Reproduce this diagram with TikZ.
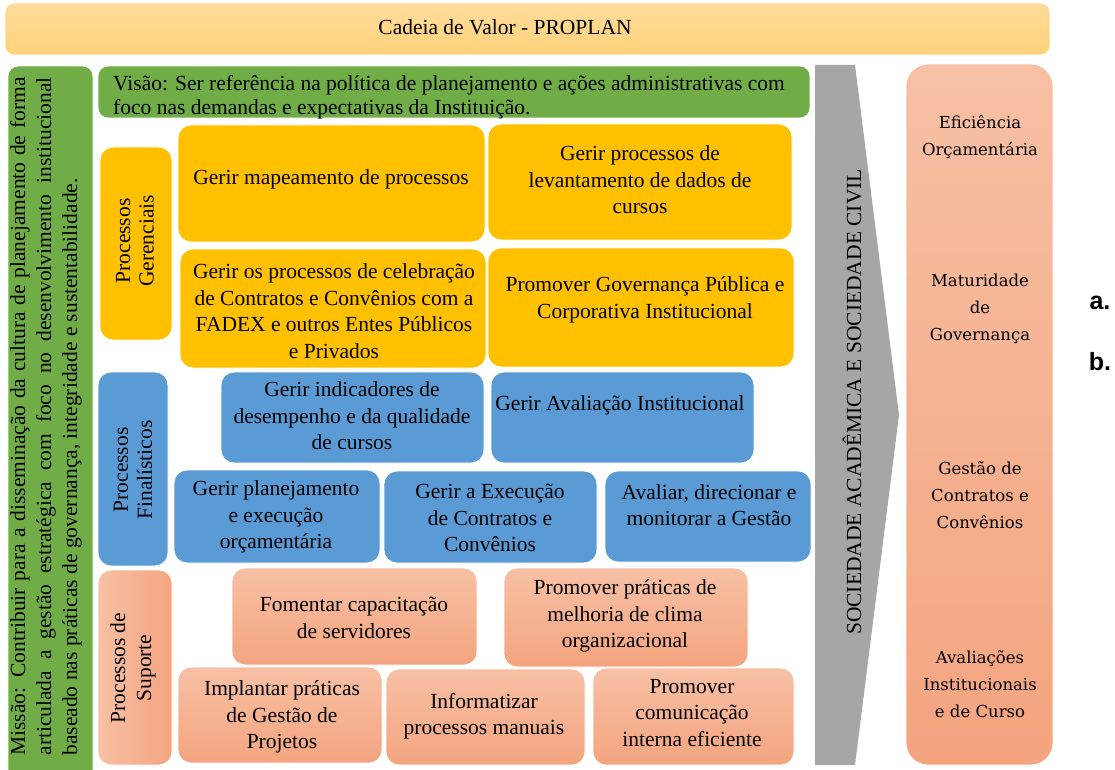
\documentclass[tikz,border=0pt]{standalone}
\usepackage{fontspec}
\setmainfont{Liberation Serif}
\newfontfamily\rfont{DejaVu Serif}
\newfontfamily\lfont{Liberation Sans}
\definecolor{cYel}{HTML}{FFC000}
\definecolor{cBlu}{HTML}{5B9BD5}
\definecolor{cGrn}{HTML}{70AD47}
\definecolor{cGray}{HTML}{A6A6A6}
\definecolor{cSalT}{HTML}{F7C0A4}
\definecolor{cSalB}{HTML}{F4A47F}
\definecolor{cTopT}{HTML}{FFDC9C}
\definecolor{cTopB}{HTML}{FFD27A}
\newcommand\bx[6]{\node[#1, anchor=north west, minimum width={#5-#3}, minimum height={#6-#4}] (#2) at (#3,#4) {};}
\begin{document}
\begin{tikzpicture}[x=1pt,y=-1pt,
  box/.style={rounded corners=13pt, draw=white, line width=0.8pt, inner sep=0pt, outer sep=0pt},
  yel/.style={box, fill=cYel},
  blu/.style={box, fill=cBlu},
  grn/.style={box, fill=cGrn, rounded corners=10pt},
  sal/.style={box, top color=cSalT, bottom color=cSalB},
  salh/.style={box, left color=cSalT, right color=cSalB},
  txt/.style={align=center, inner sep=0pt, font=\fontsize{21.5}{26.5}\selectfont},
  rtxt/.style={align=center, inner sep=0pt, font=\rfont\fontsize{16.5}{27}\selectfont},
  lbl/.style={inner sep=0pt, font=\lfont\bfseries\fontsize{25}{28}\selectfont}
]
\useasboundingbox (0,0) rectangle (1115,770);
% top bar
\node[box, rounded corners=9pt, top color=cTopT, bottom color=cTopB, anchor=north west, minimum width=1045, minimum height=52] (top) at (5,3) {};
\node[txt] (topt) at (505,27) {Cadeia de Valor - PROPLAN};
% missao
\bx{grn}{mis}{8}{66}{93}{785}
\node[rotate=90, text width=678pt, align=justify, inner sep=0pt, font=\fontsize{21.5}{26}\selectfont] (mist) at (46,416.5)
 {Missão: Contribuir para a disseminação da cultura de planejamento de forma\linebreak articulada a gestão estratégica com foco no desenvolvimento institucional\linebreak baseado nas práticas de governança, integridade e sustentabilidade.};
% visao
\bx{grn}{vis}{98}{66}{810}{118}
\node[anchor=west, align=left, inner sep=0pt, font=\fontsize{21.5}{24}\selectfont] (vist) at (113,97)
 {Visão: Ser referência na política de planejamento e ações administrativas com\\foco nas demandas e expectativas da Instituição.};
% labels
\bx{yel}{pg}{100}{147}{172}{340}
\node[txt, rotate=90, font=\fontsize{21.5}{23.5}\selectfont] (pgt) at (135,241) {Processos\\Gerenciais};
\bx{blu}{pf}{98}{372}{168}{566}
\node[txt, rotate=90, font=\fontsize{21.5}{24}\selectfont] (pft) at (133,470) {Processos\\Finalísticos};
\bx{salh}{ps}{98}{570}{172}{765}
\node[txt, rotate=90, font=\fontsize{21.5}{26}\selectfont] (pst) at (133,668) {Processos de\\Suporte};
% yellow boxes
\bx{yel}{A}{178}{125}{485}{242}
\node[txt] (At) at (331,179) {Gerir mapeamento de processos};
\bx{yel}{B}{488}{124}{792}{240}
\node[txt] (Bt) at (640,180) {Gerir processos de\\levantamento de dados de\\cursos};
\bx{yel}{C}{180}{249}{486}{368}
\node[txt] (Ct) at (334,311) {Gerir os processos de celebração\\de Contratos e Convênios com a\\FADEX e outros Entes Públicos\\e Privados};
\bx{yel}{D}{488}{248}{794}{367}
\node[txt] (Dt) at (645,300) {Promover Governança Pública e\\Corporativa Institucional};
% blue boxes
\bx{blu}{E}{221}{372}{484}{463}
\node[txt] (Et) at (352,416) {Gerir indicadores de\\desempenho e da qualidade\\de cursos};
\bx{blu}{F}{491}{372}{754}{463}
\node[txt] (Ft) at (620,405) {Gerir Avaliação Institucional};
\bx{blu}{G}{174}{470}{380}{563}
\node[txt] (Gt) at (276,517) {Gerir planejamento\\e execução\\orçamentária};
\bx{blu}{H}{384}{471}{597}{563}
\node[txt] (Ht) at (490,518) {Gerir a Execução\\de Contratos e\\Convênios};
\bx{blu}{I}{605}{471}{811}{562}
\node[txt] (It) at (709,505) {Avaliar, direcionar e\\monitorar a Gestão};
% salmon boxes
\bx{sal}{J}{232}{568}{477}{665}
\node[txt] (Jt) at (354,618) {Fomentar capacitação\\de servidores};
\bx{sal}{K}{504}{568}{748}{667}
\node[txt] (Kt) at (625,616) {Promover práticas de\\melhoria de clima\\organizacional};
\bx{sal}{L}{178}{667}{382}{763}
\node[txt] (Lt) at (282,717) {Implantar práticas\\de Gestão de\\Projetos};
\bx{sal}{M}{386}{669}{585}{765}
\node[txt] (Mt) at (484,716) {Informatizar\\processos manuais};
\bx{sal}{N}{593}{668}{794}{765}
\node[txt] (Nt) at (692,713) {Promover\\comunicação\\interna eficiente};
% gray arrow
\path[fill=cGray] (815,65) -- (855,65) -- (899,415) -- (855,765) -- (815,765) -- cycle;
\node[txt, rotate=90] (soc) at (852,402) {SOCIEDADE ACADÊMICA E SOCIEDADE CIVIL};
% right column
\bx{sal, rounded corners=22pt}{res}{906}{64}{1053}{765}
\node[rtxt] (r1) at (980,137) {Eficiência\\Orçamentária};
\node[rtxt] (r2) at (980,309) {Maturidade\\de\\Governança};
\node[rtxt] (r3) at (980,495) {Gestão de\\Contratos e\\Convênios};
\node[rtxt] (r4) at (980,684) {Avaliações\\Institucionais\\e de Curso};
% a. b.
\node[lbl] (la) at (1100,303) {a.};
\node[lbl] (lb) at (1100,362) {b.};
\end{tikzpicture}
\end{document}
